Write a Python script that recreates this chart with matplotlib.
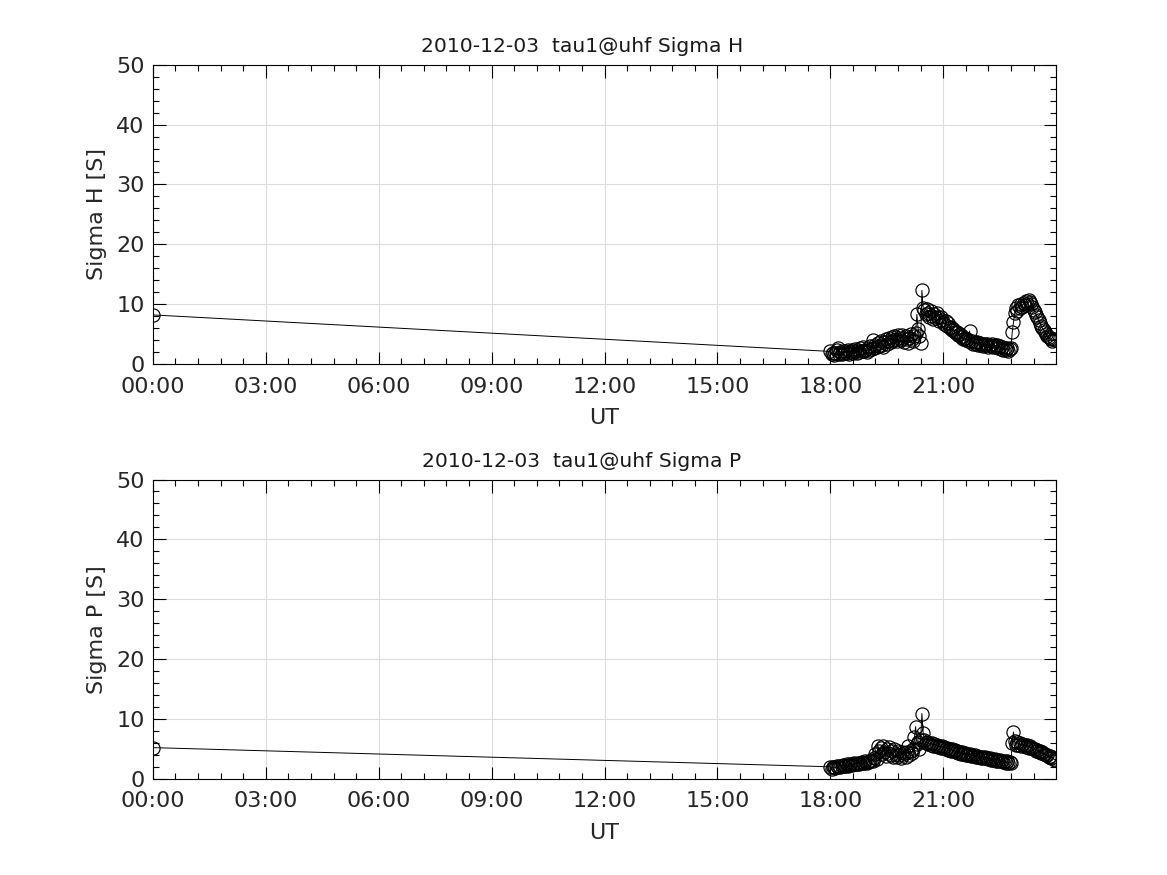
import numpy as np
import matplotlib.pyplot as plt
from matplotlib.ticker import MultipleLocator, FuncFormatter

# one sample at midnight, then the evening run sampled every 2 min from 18:00
t_first = 0.0
sigH_first = 8.2
sigP_first = 5.2
t_run = 18.0 + np.arange(180) * 2 / 60.0

sigH = [
    2.1, 1.6, 1.9, 1.5, 1.8, 2.4, 2.7, 1.7, 2.0, 1.6,
    2.2, 1.8, 2.1, 1.9, 2.3, 1.7, 2.0, 2.4, 1.8, 2.2,
    2.5, 1.9, 2.3, 2.0, 2.6, 2.2, 2.8, 2.1, 2.4, 2.0,
    2.7, 2.3, 3.0, 2.5, 4.0, 2.6, 3.2, 2.8, 3.5, 3.0,
    3.8, 3.2, 2.9, 3.6, 4.1, 3.4, 3.9, 4.3, 3.7, 4.5,
    4.0, 4.6, 4.2, 3.8, 4.8, 4.4, 4.0, 4.9, 4.3, 3.7,
    4.6, 4.1, 3.5, 4.4, 5.0, 4.2, 3.9, 4.7, 5.2, 8.3,
    5.8, 4.6, 3.5, 12.3, 9.4, 9.0, 8.3, 9.2, 8.6, 7.9,
    8.8, 8.1, 7.5, 8.4, 7.7, 8.6, 7.9, 7.2, 7.8, 7.3,
    7.0, 6.7, 7.2, 6.4, 6.8, 6.0, 6.2, 5.7, 5.9, 5.4,
    5.1, 5.3, 4.8, 5.0, 4.5, 4.7, 4.2, 4.4, 4.0, 4.2,
    3.8, 5.5, 3.6, 3.9, 3.4, 3.7, 3.3, 3.6, 3.2, 3.5,
    3.1, 3.4, 3.0, 3.3, 3.1, 3.4, 2.9, 3.2, 3.0, 3.3,
    2.8, 3.1, 2.9, 3.2, 2.7, 3.0, 2.5, 2.8, 2.4, 2.7,
    2.3, 2.6, 2.2, 2.5, 2.7, 5.3, 7.0, 8.5, 9.4, 8.9,
    9.8, 9.3, 10.0, 9.6, 10.2, 9.9, 10.5, 10.1, 10.7, 10.4,
    10.0, 9.5, 9.1, 8.7, 8.2, 7.8, 7.3, 6.9, 6.4, 6.0,
    5.7, 5.3, 5.0, 4.7, 4.5, 4.3, 4.1, 3.9, 4.2, 4.0,
]

sigP = [
    2.0, 1.7, 1.9, 2.0, 1.8, 2.1, 1.9, 2.2, 2.0, 2.1,
    2.3, 2.1, 2.2, 2.4, 2.2, 2.3, 2.5, 2.3, 2.4, 2.6,
    2.4, 2.5, 2.7, 2.5, 2.6, 2.8, 2.6, 2.7, 2.9, 2.7,
    2.8, 3.0, 2.9, 3.2, 3.0, 3.5, 4.2, 3.3, 5.5, 4.6,
    5.2, 4.1, 5.4, 4.4, 3.8, 5.0, 4.3, 5.3, 4.0, 4.7,
    3.7, 4.9, 4.2, 3.6, 4.6, 4.0, 3.5, 4.5, 3.9, 4.3,
    3.6, 4.4, 5.4, 4.0, 4.7, 4.3, 5.0, 6.9, 8.7, 5.8,
    6.2, 4.9, 6.5, 10.9, 7.7, 6.4, 6.0, 6.2, 5.8, 6.0,
    5.7, 5.9, 5.5, 5.8, 5.4, 5.6, 5.3, 5.5, 5.2, 5.4,
    5.1, 5.3, 5.0, 5.2, 4.8, 5.0, 4.7, 4.9, 4.6, 4.8,
    4.5, 4.6, 4.3, 4.5, 4.2, 4.4, 4.1, 4.3, 4.0, 4.2,
    3.9, 4.1, 3.8, 4.0, 3.8, 3.9, 3.7, 3.8, 3.6, 3.7,
    3.5, 3.7, 3.4, 3.6, 3.4, 3.5, 3.3, 3.4, 3.2, 3.3,
    3.1, 3.3, 3.0, 3.2, 3.0, 3.1, 2.9, 3.0, 2.8, 2.9,
    2.7, 2.9, 2.6, 2.8, 2.7, 6.0, 7.8, 6.3, 5.7, 6.1,
    5.6, 5.9, 5.5, 5.8, 5.4, 5.7, 5.3, 5.6, 5.2, 5.4,
    5.1, 5.2, 4.9, 5.0, 4.7, 4.8, 4.5, 4.6, 4.3, 4.4,
    4.1, 4.2, 3.9, 4.0, 3.7, 3.8, 3.5, 3.6, 3.3, 3.2,
]

date_str = '2010-12-03'
panels = [('Sigma H', sigH_first, sigH), ('Sigma P', sigP_first, sigP)]

plt.rcParams['font.family'] = 'DejaVu Sans'
fig = plt.figure(figsize=(11.67, 8.75), dpi=100)
positions = [[0.131, 0.584, 0.774, 0.342], [0.131, 0.110, 0.774, 0.342]]


def hhmm(x, pos):
    m = int(round(x * 60))
    return '%02d:%02d' % (m // 60, m % 60)


for pos, (name, first, vals) in zip(positions, panels):
    ax = fig.add_axes(pos)
    tt = np.concatenate([[t_first], t_run])
    vv = np.concatenate([[first], vals])
    ax.plot(tt, vv, '-', color='k', lw=0.7)
    ax.plot(tt, vv, 'o', mfc='none', mec='k', ms=9.5, mew=0.85)
    ax.set_xlim(0, 24)
    ax.set_ylim(0, 50)
    ax.set_xticks(np.arange(0, 22, 3))
    ax.xaxis.set_minor_locator(MultipleLocator(0.6))
    ax.yaxis.set_major_locator(MultipleLocator(10))
    ax.yaxis.set_minor_locator(MultipleLocator(2))
    ax.xaxis.set_major_formatter(FuncFormatter(hhmm))
    ax.grid(True, which='major', color='#dcdcdc', lw=0.8)
    ax.set_axisbelow(True)
    ax.tick_params(which='both', direction='in', top=True, right=True,
                   labelsize=16, labelcolor='#262626', width=0.8)
    ax.tick_params(which='major', length=9)
    ax.tick_params(which='minor', length=4.5)
    ax.tick_params(axis='x', which='major', pad=9)
    ax.tick_params(axis='y', which='major', pad=6)
    for s in ax.spines.values():
        s.set_linewidth(0.8)
    ax.set_xlabel('UT', fontsize=16, color='#262626')
    ax.xaxis.set_label_coords(0.5, -0.148)
    ax.set_ylabel(name + ' [S]', fontsize=16, color='#262626')
    ax.yaxis.set_label_coords(-0.051, 0.5)
    ax.set_title(date_str + '  tau1@uhf ' + name, fontsize=14.6, color='#1a1a1a',
                 x=0.475, pad=9)

fig.savefig('out.png', dpi=100)
